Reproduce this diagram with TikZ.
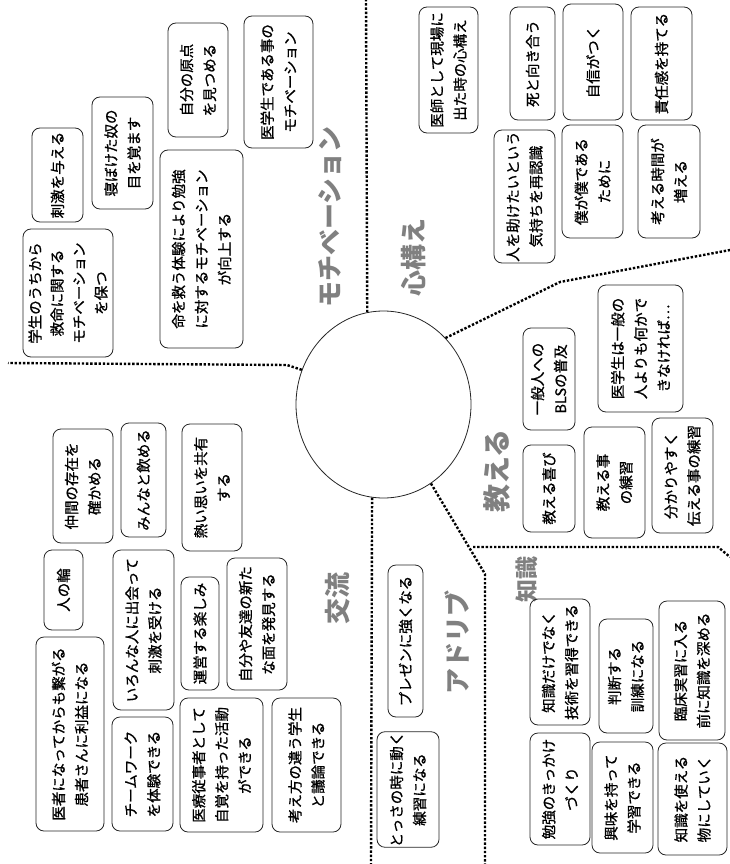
\documentclass[tikz,border=0pt]{standalone}
\usepackage{fontspec}
\newfontfamily\jp{Noto Sans CJK JP}[RawFeature={embolden=0.9}]
\newfontfamily\jpl{Noto Sans CJK JP}
\usetikzlibrary{shapes.geometric}
\tikzset{
  box/.style={draw=black!85, line width=0.8pt, rounded corners=8pt, rotate=90, inner sep=0pt,
    align=center, text=black, font=\jp\fontsize{14.5}{23}\selectfont},
  lab/.style={rotate=90, inner sep=0pt, text=black!50, font=\jpl\bfseries\fontsize{26}{30}\selectfont},
  sep/.style={line width=2.4pt, dash pattern=on 2.4pt off 1.8pt},
}
\begin{document}
\begin{tikzpicture}[x=1pt,y=-1pt]
\useasboundingbox[fill=white] (0,0) rectangle (730,864);
% centre
\node[draw=black!85, ellipse, line width=0.8pt, minimum width=175pt, minimum height=187pt, inner sep=0pt] (c) at (383.5,404.5) {};
% separators
\coordinate (t0) at (366,0);
\coordinate (r1) at (560,282); \coordinate (r2) at (730,250);
\coordinate (lf1) at (287,365); \coordinate (lf2) at (8,363);
\coordinate (d1) at (485,574); \coordinate (d2) at (485,864);
\coordinate (bt) at (371,864);
\coordinate (h0) at (473,547); \coordinate (h1) at (718,547); \coordinate (h2) at (730,557);
\draw[sep] (c.100.8) -- (t0);
\draw[sep] (c.47.6) -- (r1) -- (r2);
\draw[sep] (c.157.8) -- (lf1) -- (lf2);
\draw[sep] (c.301.7) -- (d1) -- (d2);
\draw[sep] (c.263.2) -- (bt);
\draw[sep] (h0) -- (h1) -- (h2);
% labels
\node[lab] (l1) at (330,217) {モチベーション};
\node[lab] (l2) at (414,257) {心構え};
\node[lab, font=\jpl\bfseries\fontsize{28}{30}\selectfont] (l3) at (497,471) {教える};
\node[lab, font=\jpl\bfseries\fontsize{23}{26}\selectfont] (l4) at (527,579) {知識};
\node[lab] (l5) at (457,642) {アドリブ};
\node[lab] (l6) at (338,598) {交流};
% motivation
\node[box,minimum width=94pt,minimum height=51pt] (b1) at (57.5,175) {刺激を与える};
\node[box,minimum width=112pt,minimum height=61pt] (b2) at (122.5,153) {寝ぼけた奴の\\目を覚ます};
\node[box,minimum width=114pt,minimum height=60pt] (b3) at (198,80) {自分の原点\\を見つめる};
\node[box,minimum width=132pt,minimum height=69pt] (b4) at (278.5,82) {医学生である事の\\モチベーション};
\node[box,minimum width=198pt,minimum height=83pt] (b5) at (201.5,249) {命を救う体験により勉強\\に対するモチベーション\\が向上する};
\node[box,minimum width=128pt,minimum height=90pt,font=\jp\fontsize{14.5}{22}\selectfont] (b6) at (68,293) {学生のうちから\\救命に関する\\モチベーション\\を保つ};
% kokorogamae
\node[box,minimum width=126pt,minimum height=59pt] (b7) at (448.5,70) {医師として現場に\\出た時の心構え};
\node[box,minimum width=113pt,minimum height=45pt] (b8) at (532.5,63.5) {死と向き合う};
\node[box,minimum width=116pt,minimum height=60pt] (b9) at (593,62) {自信がつく};
\node[box,minimum width=113pt,minimum height=61pt] (b10) at (661.5,63.5) {責任感を持てる};
\node[box,minimum width=133pt,minimum height=61pt] (b11) at (524.5,196.5) {人を助けたいという\\気持ちを再認識};
\node[box,minimum width=113pt,minimum height=61pt] (b12) at (592.5,181.5) {僕が僕である\\ために};
\node[box,minimum width=113pt,minimum height=62pt] (b13) at (669,181.5) {考える時間が\\増える};
% oshieru
\node[box,minimum width=102pt,minimum height=52pt] (b14) at (549,379) {一般人への\\BLSの普及};
\node[box,minimum width=127pt,minimum height=85pt] (b15) at (640.5,348.5) {医学生は一般の\\人よりも何かで\\きなければ…};
\node[box,minimum width=87pt,minimum height=52pt] (b16) at (549,488.5) {教える喜び};
\node[box,minimum width=111pt,minimum height=61pt] (b17) at (614.5,482.5) {教える事\\の練習};
\node[box,minimum width=115pt,minimum height=61pt] (b18) at (682.5,475.5) {分かりやすく\\伝える事の練習};
% kouryuu
\node[box,minimum width=114pt,minimum height=60pt] (b19) at (83,486) {仲間の存在を\\確かめる};
\node[box,minimum width=114pt,minimum height=45pt] (b20) at (143.5,480) {みんなと飲める};
\node[box,minimum width=127pt,minimum height=60pt] (b21) at (212,487.5) {熱い思いを共有\\する};
\node[box,minimum width=80pt,minimum height=39pt] (b22) at (63.5,590) {人の輪};
\node[box,minimum width=194pt,minimum height=68pt] (b23) at (70,734) {医者になってからも繋がる\\患者さんに利益になる};
\node[box,minimum width=160pt,minimum height=61pt] (b24) at (143.5,630) {いろんな人に出会って\\刺激を受ける};
\node[box,minimum width=114pt,minimum height=61pt] (b25) at (142.5,774) {チームワーク\\を体験できる};
\node[box,minimum width=113pt,minimum height=38pt] (b26) at (200,633.5) {運営する楽しみ};
\node[box,minimum width=132pt,minimum height=60pt] (b27) at (257,624) {自分や友達の新た\\な面を発見する};
\node[box,minimum width=134pt,minimum height=83pt] (b28) at (221.5,765) {医療従事者として\\自覚を持った活動\\ができる};
\node[box,minimum width=134pt,minimum height=69pt] (b29) at (306.5,765) {考え方の違う学生\\と議論できる};
% adlib
\node[box,minimum width=115pt,minimum height=62pt] (b30) at (408,789.5) {とっさの時に動く\\練習になる};
\node[box,minimum width=152pt,minimum height=35pt] (b31) at (405.5,641) {プレゼンに強くなる};
% chishiki
\node[box,minimum width=126pt,minimum height=60pt] (b32) at (560,662) {知識だけでなく\\技術を習得できる};
\node[box,minimum width=114pt,minimum height=54pt] (b33) at (626,676) {判断する\\訓練になる};
\node[box,minimum width=139pt,minimum height=66pt] (b34) at (692,670.5) {臨床実習に入る\\前に知識を深める};
\node[box,minimum width=112pt,minimum height=60pt] (b35) at (560,789) {勉強のきっかけ\\づくり};
\node[box,minimum width=111pt,minimum height=61pt] (b36) at (622.5,797.5) {興味を持って\\学習できる};
\node[box,minimum width=112pt,minimum height=69pt] (b37) at (692.5,799) {知識を使える\\物にしていく};
\end{tikzpicture}
\end{document}
